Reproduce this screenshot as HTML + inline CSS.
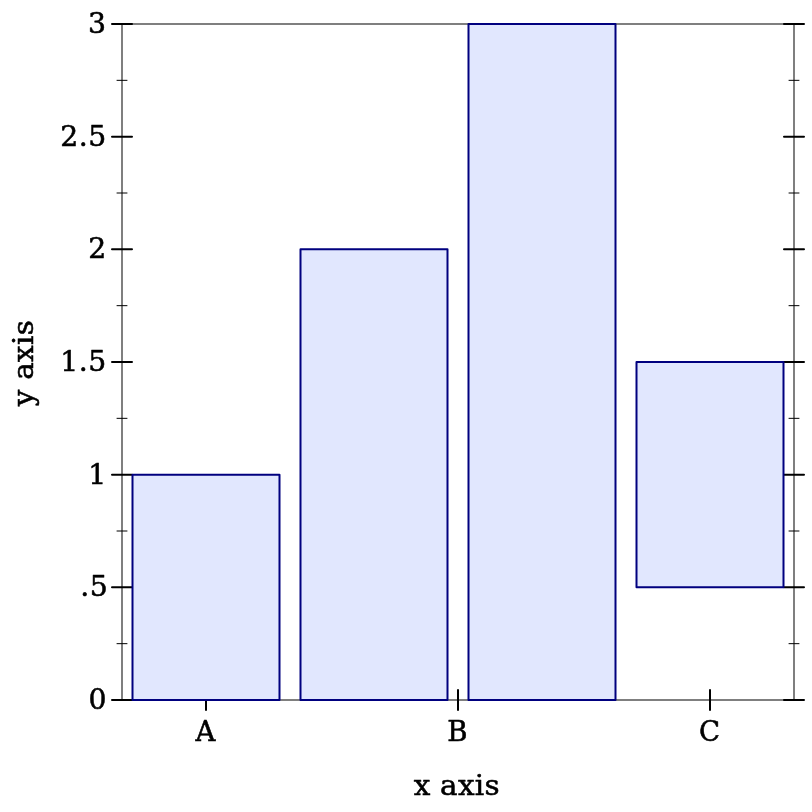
<!DOCTYPE html>
<html><head><meta charset="utf-8"><title>plot</title>
<style>
html,body{margin:0;padding:0;background:#fff;}
svg{display:block;}
text{font-family:"DejaVu Serif","Liberation Serif",serif;font-size:28.3px;fill:#000;stroke:#000;stroke-width:0.55px;stroke-linejoin:round;}
</style></head><body>
<svg width="812" height="812" viewBox="0 0 812 812">
<rect width="812" height="812" fill="#fff"/>

<g fill="#000" fill-opacity="0.5">
<rect x="121.0" y="23.0" width="2" height="678.0"/>
<rect x="793.0" y="23.0" width="2" height="678.0"/>
<rect x="121.0" y="23.0" width="674.0" height="2"/>
<rect x="121.0" y="699.0" width="674.0" height="2"/>
</g>
<g stroke="#000" stroke-width="1" stroke-linecap="round" fill="none">
<path d="M117.0 643.67H127.0M789.0 643.67H799.0"/>
<path d="M117.0 531.00H127.0M789.0 531.00H799.0"/>
<path d="M117.0 418.33H127.0M789.0 418.33H799.0"/>
<path d="M117.0 305.67H127.0M789.0 305.67H799.0"/>
<path d="M117.0 193.00H127.0M789.0 193.00H799.0"/>
<path d="M117.0 80.33H127.0M789.0 80.33H799.0"/>
</g>
<g stroke="#000" stroke-width="2" stroke-linecap="round" fill="none">
<path d="M112.0 700.00H132.0M784.0 700.00H804.0"/>
<path d="M112.0 587.33H132.0M784.0 587.33H804.0"/>
<path d="M112.0 474.67H132.0M784.0 474.67H804.0"/>
<path d="M112.0 362.00H132.0M784.0 362.00H804.0"/>
<path d="M112.0 249.33H132.0M784.0 249.33H804.0"/>
<path d="M112.0 136.67H132.0M784.0 136.67H804.0"/>
<path d="M112.0 24.00H132.0M784.0 24.00H804.0"/>
<path d="M206 690.0V710.0"/>
<path d="M458 690.0V710.0"/>
<path d="M710 690.0V710.0"/>
</g>
<g stroke="#00007f" stroke-width="2" stroke-linejoin="round" fill="#e1e7fe">
<rect x="132.5" y="474.67" width="147" height="225.33"/>
<rect x="300.5" y="249.33" width="147" height="450.67"/>
<rect x="468.5" y="24.00" width="147" height="676.00"/>
<rect x="636.5" y="362.00" width="147" height="225.33"/>
</g>
<text transform="translate(106.50 708.70)" text-anchor="end">0</text>
<text transform="translate(108.35 595.70)" text-anchor="end" style="letter-spacing:0.55px;">.5</text>
<text transform="translate(106.20 483.70)" text-anchor="end">1</text>
<text transform="translate(106.85 370.70)" text-anchor="end" style="letter-spacing:0.55px;">1.5</text>
<text transform="translate(106.20 257.70)" text-anchor="end">2</text>
<text transform="translate(106.85 145.70)" text-anchor="end" style="letter-spacing:0.55px;">2.5</text>
<text transform="translate(106.00 32.70)" text-anchor="end">3</text>
<text transform="translate(205.50 740.80) scale(1.01 1)" text-anchor="middle" style="font-size:27.3px;">A</text>
<text transform="translate(457.50 740.80) scale(1.01 1)" text-anchor="middle" style="font-size:27.3px;">B</text>
<text transform="translate(709.50 740.80) scale(1.01 1)" text-anchor="middle" style="font-size:27.3px;">C</text>
<text transform="translate(456.70 795.10) scale(1.04 1)" text-anchor="middle" style="letter-spacing:0.25px;">x axis</text>
<text transform="translate(33.10 363.10) rotate(-90) scale(1.04 1)" text-anchor="middle" style="letter-spacing:0.25px;">y axis</text>
</svg></body></html>
